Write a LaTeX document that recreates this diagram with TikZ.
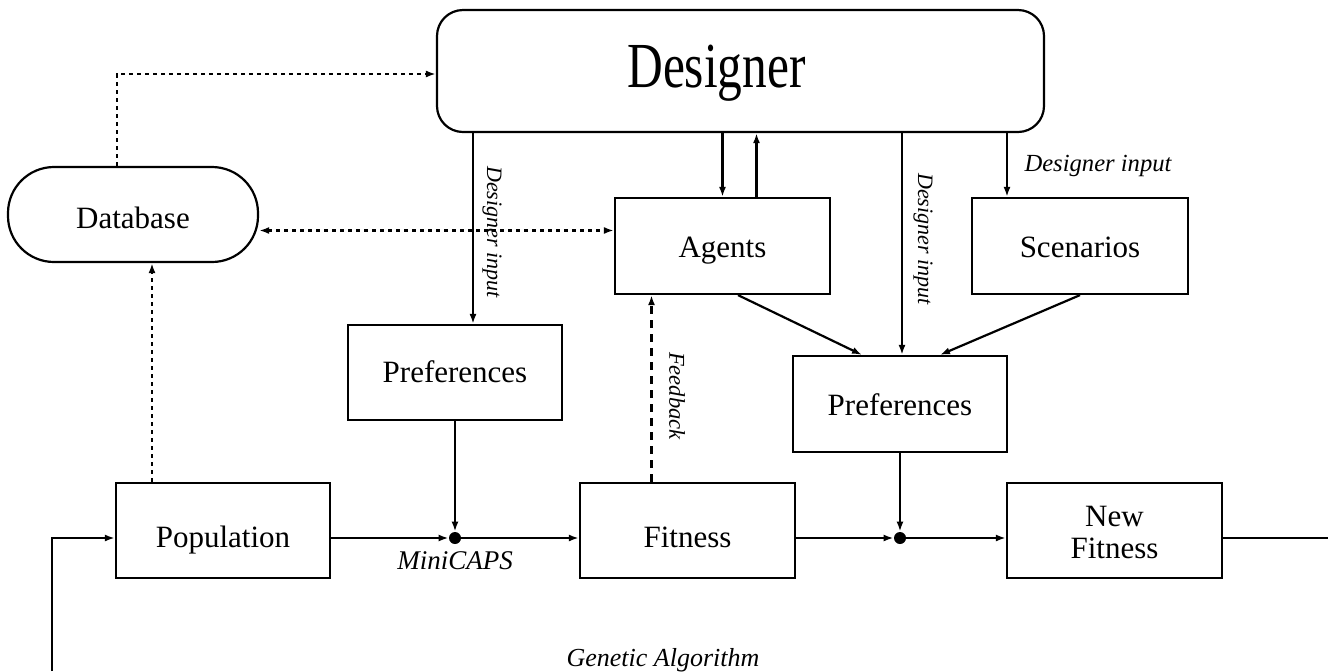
\documentclass[tikz,border=0pt]{standalone}
\usepackage{fontspec}
\setmainfont{Liberation Serif}
\usetikzlibrary{arrows.meta,calc}
\begin{document}
\begin{tikzpicture}[x=0.5pt,y=-0.5pt,
  box/.style={draw,line width=1.1pt,inner sep=0pt,align=center,text depth=0pt,text height=10.3pt,font=\fontsize{15.5}{16}\selectfont},
  lbl/.style={font=\fontsize{12.3}{14}\itshape\selectfont,inner sep=0pt},
  vlbl/.style={font=\fontsize{11}{13}\itshape\selectfont,inner sep=0pt,rotate=-90},
  arr/.style={-{Latex[length=5pt,width=3.5pt]}},
  conn/.style={line width=1.1pt,arr},
  dotl/.style={line width=1.1pt,dash pattern=on 2pt off 2pt},
  dashl/.style={line width=1.1pt,dash pattern=on 4pt off 3pt},
  dot/.style={circle,fill=black,inner sep=0pt,minimum size=6pt}]
\useasboundingbox (0,0) rectangle (1328,671);
\node[box,rounded corners=13pt,minimum width=303.5pt,minimum height=61pt,font=\fontsize{24.7}{28}\selectfont,text height=16.8pt] (designer) at (740.5,71) {\scalebox{1}[1.3]{Designer}\hspace*{24pt}};
\node[box,rounded corners=23pt,minimum width=125pt,minimum height=47.5pt,text height=13.8pt] (db) at (133,214.5) {Database};
\node[box,minimum width=107.5pt,minimum height=48pt,text height=11.3pt] (agents) at (722.5,246) {Agents};
\node[box,minimum width=108pt,minimum height=48pt,text height=11.3pt] (scen) at (1080,246) {Scenarios};
\node[box,minimum width=107pt,minimum height=47.5pt] (prefL) at (455,372.5) {Preferences};
\node[box,minimum width=107pt,minimum height=48pt,text height=11.3pt] (prefR) at (900,404) {Preferences};
\node[box,minimum width=107pt,minimum height=47.5pt,text height=17.3pt] (pop) at (223,530.5) {Population};
\node[box,minimum width=107.5pt,minimum height=47.5pt,text height=17.3pt] (fit) at (687.5,530.5) {Fitness};
\node[box,minimum width=107.5pt,minimum height=47.5pt,text height=27.8pt] (newfit) at (1114.5,530.5) {New\\Fitness};
\node[dot] (j1) at (455,538) {};
\node[dot] (j2) at (900,538) {};
\coordinate (loopL) at (52,671);
\coordinate (loopR) at (1328,538);
% Designer connections
\draw[conn] ([xshift=9pt]prefL.north |- designer.south) -- ([xshift=9pt]prefL.north);
\draw[conn] (agents.north |- designer.south) -- (agents.north);
\draw[conn] ([xshift=17pt]agents.north) -- ([xshift=17pt]agents.north |- designer.south);
\draw[conn] ([xshift=1pt]prefR.north |- designer.south) -- ([xshift=1pt]prefR.north);
\draw[conn] ([xshift=-36.5pt]scen.north |- designer.south) -- ([xshift=-36.5pt]scen.north);
% to right preferences
\draw[conn] ([xshift=7.75pt]agents.south) -- ([xshift=-19pt]prefR.north);
\draw[conn] (scen.south) -- ([xshift=20pt]prefR.north);
% database
\draw[dotl,arr] ([xshift=-8pt]db.north) |- ([yshift=-1.5pt]designer.west);
\draw[dotl,{Latex[length=5pt,width=3.5pt]}-{Latex[length=5pt,width=3.5pt]}] ([yshift=-8pt]db.east) -- ([yshift=-8pt]db.east -| agents.west);
\draw[dotl,arr] ([xshift=-35.5pt]pop.north) -- ([xshift=-35.5pt]pop.north |- db.south);
% feedback
\draw[dashl,arr] ([xshift=-18pt]fit.north) -- ([xshift=-18pt]fit.north |- agents.south);
% main line
\draw[conn] (prefL.south) -- (j1);
\draw[conn] (pop.east |- j1) -- (j1);
\draw[conn] (j1) -- (j1 -| fit.west);
\draw[conn] (fit.east |- j2) -- (j2);
\draw[conn] (prefR.south) -- (j2);
\draw[conn] (j2) -- (j2 -| newfit.west);
\draw[line width=1.1pt] (newfit.east |- loopR) -- (loopR);
\draw[conn] (loopL) |- (pop.west |- j1);
% labels
\node[vlbl] (l1) at (492,232) {Designer input};
\node[vlbl] (l2) at (923,239) {Designer input};
\node[lbl] (l3) at (1098,166) {Designer input};
\node[vlbl,font=\fontsize{11.3}{13}\itshape\selectfont] (l4) at (677,396) {Feedback};
\node[lbl,font=\fontsize{13.5}{15}\itshape\selectfont] (l5) at (455,561) {MiniCAPS};
\node[lbl,font=\fontsize{13}{15}\itshape\selectfont] (l6) at (663,660) {Genetic Algorithm};
\end{tikzpicture}
\end{document}
